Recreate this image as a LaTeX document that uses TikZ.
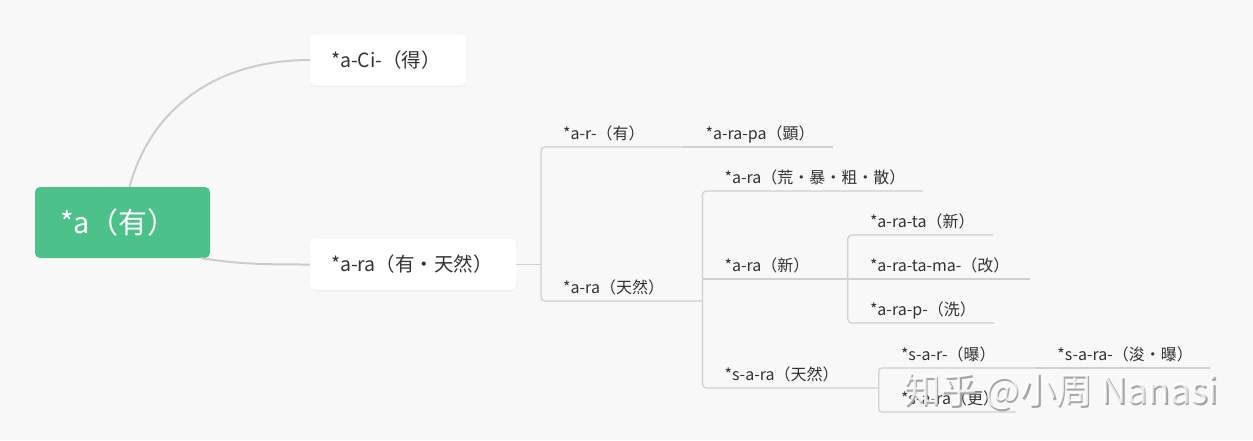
\documentclass[tikz,border=0pt]{standalone}
\usepackage{fontspec}
\setmainfont{Noto Sans CJK SC}
\usetikzlibrary{
  positioning,
  calc,
  shadows}
\definecolor{bgcolor}{RGB}{248,248,248}
\definecolor{rootcolor}{RGB}{77,193,138}
\definecolor{curvecolor}{RGB}{204,204,204}
\definecolor{branchcolor}{RGB}{208,208,208}
\definecolor{labelcolor}{RGB}{51,51,51}
\definecolor{markcolor}{RGB}{165,165,165}
\tikzset{
  %% root : the central topic
  root/.style={
    rectangle,
    rounded corners=5pt,
    fill=rootcolor,
    text=white,
    font=\fontsize{29}{32}\selectfont,
    inner xsep=25pt,
    text width=125pt,
    minimum height=71pt,
    align=left
  },
  %% topic : a main topic in a white box
  topic/.style={
    rectangle,
    rounded corners=5pt,
    fill=white,
    drop shadow={opacity=0.06, shadow xshift=0pt, shadow yshift=-1.5pt},
    text=labelcolor,
    font=\fontsize{19.5}{22}\selectfont,
    inner xsep=21pt,
    minimum height=51pt,
    align=left
  },
  %% leaf : a subtopic sitting on its underline
  %%      (anchor is the left end of the underline)
  leaf/.style={
    anchor=south west,
    text=labelcolor,
    font=\fontsize{16}{19}\selectfont,
    inner xsep=0pt,
    inner ysep=3pt,
    text height=12pt,
    text depth=4pt,
    text width=#1,
    align=left,
    execute at begin node=\hspace*{22pt}
  },
  %% curve : connection from the root
  curve/.style={curvecolor, line width=2pt},
  %% branch : underlines and brackets
  branch/.style={branchcolor, line width=1.2pt, rounded corners=4pt}
}

\begin{document}
\begin{tikzpicture}
  [x=1pt,
  y=-1pt]

  %% Background, fixes the size
  \fill [bgcolor] (0, 0) rectangle (1253, 440);
  \useasboundingbox (0, 0) rectangle (1253, 440);

  %% Main topics
  \node (root) [root] at (122.5, 222.5) {*a（有）};

  \node (aci) [topic, text width=114pt] at (388, 60) {*a-Ci-（得）};

  \node (ara) [topic, text width=164pt] at (413, 264.5) {*a-ra（有・天然）};

  %% Subtopics of *a-ra
  \node (ar) [leaf=142pt] at (541, 147) {*a-r-（有）};
  \node (arapa) [leaf=149pt] at (ar.south east) {*a-ra-pa（顕）};
  \node (aratn) [leaf=161pt] at (541, 301) {*a-ra（天然）};

  %% Subtopics of *a-ra (tennen)
  \node (arak) [leaf=220pt] at ($(aratn.south east) + (0, -110)$) {*a-ra（荒・暴・粗・散）};
  \node (arash) [leaf=145pt] at ($(aratn.south east) + (0, -22)$) {*a-ra（新）};
  \node (saratn) [leaf=176pt] at ($(aratn.south east) + (0, 87)$) {*s-a-ra（天然）};

  %% Subtopics of *a-ra (shin)
  \node (arata) [leaf=145pt] at ($(arash.south east) + (0, -44)$) {*a-ra-ta（新）};
  \node (aratama) [leaf=182pt] at (arash.south east) {*a-ra-ta-ma-（改）};
  \node (arap) [leaf=146pt] at ($(arash.south east) + (0, 44)$) {*a-ra-p-（洗）};

  %% Subtopics of *s-a-ra
  \node (sar) [leaf=156pt] at ($(saratn.south east) + (0, -20)$) {*s-a-r-（曝）};
  \node (saraj) [leaf=174pt] at (sar.south east) {*s-a-ra-（浚・曝）};
  \node (sarak) [leaf=137pt] at ($(saratn.south east) + (0, 24)$) {*s-a-ra（更）};

  %% Connections from the root
  \draw [curve] ($(root.north) + (7, 0)$) .. controls (152, 105) and (220, 60) .. (aci.west);
  \draw [curve] ($(root.south east) + (-9, 0)$) .. controls (240, 264) and (260, 264.5) .. (ara.west);

  %% Brackets and underlines
  \draw [branch] (ara.east) -- (ara.east -| ar.south west);
  \draw [branch] (ar.south east) -- (ar.south west) -- (aratn.south west) -- (aratn.south east);
  \draw [branch] (arapa.south west) -- (arapa.south east);

  \draw [branch] (arak.south east) -- (arak.south west) -- (saratn.south west) -- (saratn.south east);
  \draw [branch] (arash.south west) -- (arash.south east);

  \draw [branch] (arata.south east) -- (arata.south west) -- (arap.south west) -- (arap.south east);
  \draw [branch] (aratama.south west) -- (aratama.south east);

  \draw [branch, rounded corners=3pt] (sar.south east) -- (sar.south west) -- (sarak.south west) -- (sarak.south east);
  \draw [branch] (saraj.south west) -- (saraj.south east);

  %% Watermark
  \node (watermarkshade) [markcolor, font=\fontsize{36.5}{40}\selectfont, anchor=base west] at (902, 405) {知乎 @小周 Nanasi};
  \node (watermark) [white, opacity=0.75, font=\fontsize{36.5}{40}\selectfont, anchor=base west] at (900.5, 403.5) {知乎 @小周 Nanasi};

\end{tikzpicture}
\end{document}
